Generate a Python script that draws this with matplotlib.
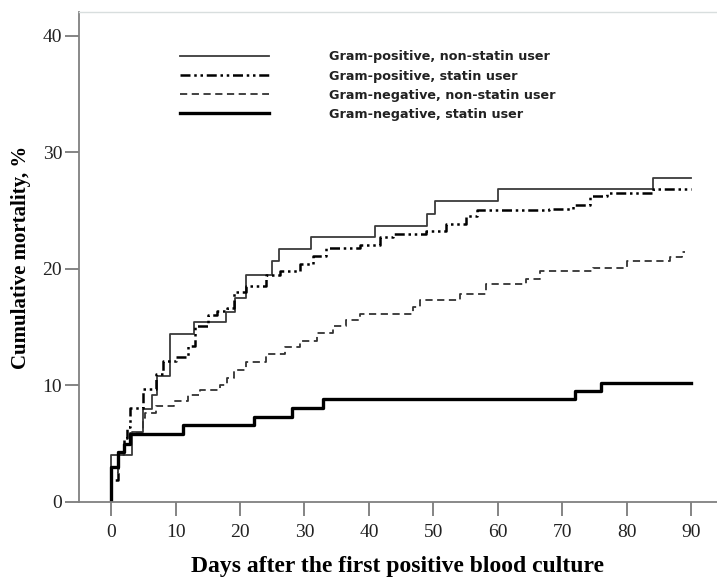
import matplotlib
matplotlib.use('Agg')
import matplotlib.pyplot as plt

# Kaplan-Meier style cumulative mortality (%) by day after first positive culture
gp_ns_days = [0, 0, 3.3, 5, 6.3, 7.1, 9.1, 12.9, 17.9, 19.2, 21, 24.9, 26, 31, 40.9, 49, 50.2, 60, 84, 90]
gp_ns_mort = [0, 4.0, 6.0, 8.0, 9.2, 10.8, 14.4, 15.4, 16.3, 17.5, 19.5, 20.7, 21.7, 22.7, 23.7, 24.7, 25.8, 26.8, 27.8, 27.8]

gp_s_days = [0, 0, 1, 2, 2.5, 3, 5, 7, 8, 10, 12, 13, 15, 16.4, 18, 19, 21, 24.1, 26.2, 29.3, 31.3, 33.4,
             38.6, 41.7, 43.8, 48.9, 52, 55.1, 56.7, 68, 71.7, 74.3, 76.9, 84, 90]
gp_s_mort = [0, 1.9, 4.3, 5.5, 6.4, 8.1, 9.7, 11.0, 12.1, 12.4, 13.4, 15.1, 16.0, 16.4, 16.6, 18.0, 18.5, 19.5, 19.8, 20.4, 21.1, 21.8,
             22.0, 22.7, 23.0, 23.2, 23.8, 24.5, 25.0, 25.1, 25.5, 26.2, 26.5, 26.8, 26.8]

gn_ns_days = [0, 0, 1, 2, 3, 5, 5.3, 7, 9.7, 12, 13.8, 16.9, 18, 19, 21, 24, 27, 29.3, 32, 34.4, 36.5, 38.6,
              46.8, 47.9, 54.1, 58.2, 64.4, 66.5, 74.8, 80, 86.7, 88.5, 89]
gn_ns_mort = [0, 2.5, 4.0, 5.0, 5.9, 7.2, 7.6, 8.2, 8.7, 9.2, 9.6, 10.0, 10.6, 11.3, 12.0, 12.7, 13.3, 13.8, 14.5, 15.1, 15.6, 16.1,
              16.7, 17.3, 17.8, 18.7, 19.1, 19.8, 20.1, 20.7, 21.0, 21.4, 21.4]

gn_s_days = [0, 0, 1, 2, 3, 11.2, 22.1, 28, 32.9, 71.9, 76, 90]
gn_s_mort = [0, 3.0, 4.3, 5.0, 5.8, 6.6, 7.3, 8.1, 8.8, 9.5, 10.2, 10.2]

x_ticks = [0, 10, 20, 30, 40, 50, 60, 70, 80, 90]
y_ticks = [0, 10, 20, 30, 40]

fig = plt.figure(figsize=(7.17, 5.8), dpi=100)
ax = fig.add_axes([0.110, 0.1345, 0.89, 0.8445])

ax.step(gp_ns_days, gp_ns_mort, where='post', color='#3a3a3a', lw=1.3,
        label='Gram-positive, non-statin user')
ax.step(gp_s_days, gp_s_mort, where='post', color='black', lw=1.8,
        linestyle=(0, (4, 1.5, 1, 1.5, 1, 1.5)), label='Gram-positive, statin user')
ax.step(gn_ns_days, gn_ns_mort, where='post', color='#333333', lw=1.3,
        linestyle=(0, (4, 2.5)), label='Gram-negative, non-statin user')
ax.step(gn_s_days, gn_s_mort, where='post', color='black', lw=2.4,
        label='Gram-negative, statin user')

ax.set_xlim(-5, 94)
ax.set_ylim(0, 42)
ax.set_xticks(x_ticks)
ax.set_yticks(y_ticks)

serif = 'Liberation Serif'
ax.tick_params(axis='both', length=10, width=1.2, color='#707070',
               labelsize=14, labelcolor='#222222')
ax.tick_params(axis='x', pad=6)
ax.tick_params(axis='y', pad=2)
for lab in ax.get_xticklabels() + ax.get_yticklabels():
    lab.set_family(serif)

for side in ['left', 'bottom']:
    ax.spines[side].set_color('#808080')
    ax.spines[side].set_linewidth(1.3)
ax.spines['top'].set_color('#d8dede')
ax.spines['top'].set_linewidth(1.0)
ax.spines['right'].set_visible(False)

ax.set_xlabel('Days after the first positive blood culture', family=serif,
              fontsize=17, fontweight='bold', labelpad=11)
ax.set_ylabel('Cumulative mortality, %', family=serif,
              fontsize=15, fontweight='bold', labelpad=8)

leg = ax.legend(loc='upper left', bbox_to_anchor=(0.158, 0.922), frameon=False,
                handlelength=7.0, handletextpad=4.7, labelspacing=0.48,
                borderpad=0, borderaxespad=0,
                prop={'family': 'DejaVu Sans', 'size': 9.2, 'weight': 'bold'})
for t in leg.get_texts():
    t.set_color('#222222')

fig.savefig('out.png', dpi=100)
